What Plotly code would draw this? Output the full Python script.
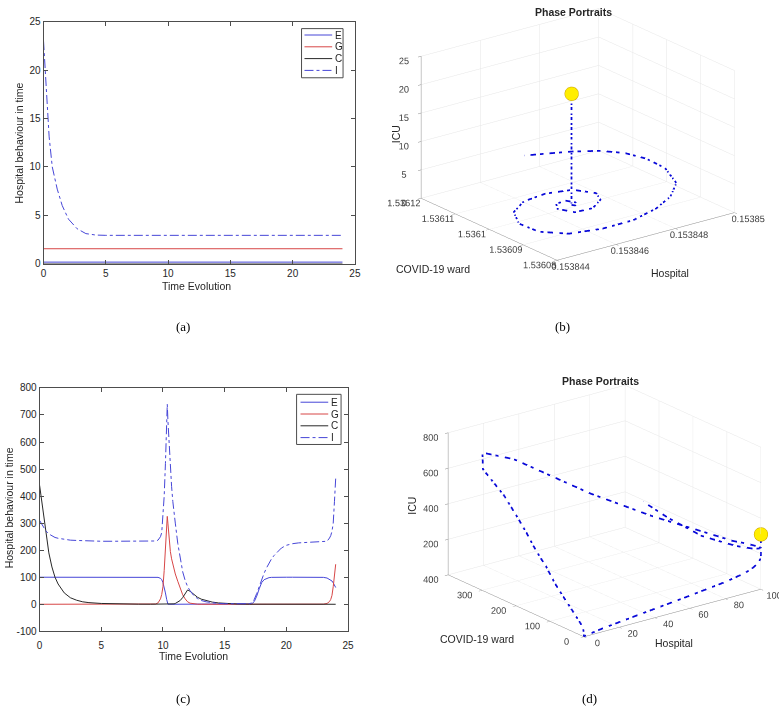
import plotly.graph_objects as go

# ---------------- (a) time series ----------------
t_a = [0, 0.13, 0.26, 0.45, 0.7, 1.1, 1.5, 2.0, 2.7, 3.4, 4.2, 5, 10, 15, 20, 24]
E_a = [0.1538] * 16
G_a = [1.5361] * 16
C_a = [0.0] * 16
I_a = [23.0, 20.2, 16.8, 13.1, 10.0, 7.7, 6.0, 4.6, 3.6, 3.1, 2.95, 2.92, 2.92, 2.92, 2.92, 2.92]

# ---------------- (b) phase portrait ----------------
hosp_b = [0.15384625] * 8 + [
    0.15384625, 0.15384611, 0.15384617, 0.15384633, 0.15384619, 0.15384584, 0.15384563,
    0.15384584, 0.15384642, 0.15384699, 0.15384720, 0.15384686, 0.15384609, 0.15384526,
    0.15384454, 0.15384413, 0.15384416, 0.15384473, 0.15384569, 0.15384673, 0.15384778,
    0.15384863, 0.15384938, 0.15384985, 0.15384987, 0.15384968, 0.15384925, 0.15384864,
    0.15384804, 0.15384741]
covid_b = [1.5360954] * 8 + [
    1.5360954, 1.5360944, 1.5360936, 1.5360948, 1.5360966, 1.5360965, 1.5360942,
    1.5360910, 1.5360906, 1.5360932, 1.5360964, 1.5361004, 1.5361017, 1.5361009,
    1.5360976, 1.5360925, 1.5360869, 1.5360829, 1.5360812, 1.5360814, 1.5360836,
    1.5360869, 1.5360917, 1.5360992, 1.5361049, 1.5361096, 1.5361132, 1.5361159,
    1.5361177, 1.5361194]
icu_b = [22.0, 17.0, 12.0, 8.0, 5.5, 4.0, 3.3, 3.0] + [2.9] * 30

# ---------------- (c) time series ----------------
t_c = [0, 0.25, 0.5, 0.75, 1.0, 1.25, 1.5, 2.0, 2.5, 3.0, 3.5, 4.0, 5.0, 6.0, 7.0, 8.0, 9.0,
       9.4, 9.6, 9.8, 9.9, 10.0, 10.1, 10.2, 10.3, 10.35, 10.4, 10.5, 10.6, 10.7, 10.8, 10.9,
       11.0, 11.2, 11.4, 11.6, 11.8, 12.0, 12.2, 12.5, 12.8, 13.1, 13.5, 14.0, 14.5, 15.0,
       16.0, 17.0, 17.2, 17.4, 17.6, 17.8, 18.0, 18.2, 18.4, 18.6, 18.8, 19.0, 19.3, 19.6,
       20.0, 20.5, 21.0, 22.0, 23.0, 23.3, 23.5, 23.6, 23.7, 23.8, 23.9, 24.0]
E_c = [100, 100, 100, 100, 100, 100, 100, 100, 100, 100, 100, 100, 100, 100, 100, 100, 100,
       100, 99.5, 96, 91, 80, 63, 42, 18, 5, 0.5, 0, 0, 0, 0, 0,
       0, 0, 0, 0, 0, 0, 0, 0, 0, 0, 0, 0, 0, 0,
       0, 0.3, 1.5, 10, 30, 57, 80, 91, 96, 98.5, 99.5, 100, 100, 100,
       100, 100, 100, 100, 99.5, 97, 93, 90, 86, 79, 70, 62]
G_c = [0, 0, 0, 0, 0, 0, 0, 0, 0, 0, 0, 0, 0, 0, 0, 0, 0,
       1, 5, 20, 36, 65, 125, 200, 300, 325, 300, 235, 195, 168, 148, 128,
       112, 85, 57, 35, 20, 9, 4, 1, 0.3, 0, 0, 0, 0, 0,
       0, 0, 0, 0, 0, 0, 0, 0, 0, 0, 0, 0, 0, 0,
       0, 0, 0, 0, 0.5, 3, 10, 18, 33, 65, 115, 148]
C_c = [440, 360, 265, 190, 138, 100, 75, 42, 24, 15, 9, 6, 3, 1.5, 0.8, 0.4, 0.2,
       0.1, 0.1, 0.1, 0.1, 0.1, 0.1, 0.1, 0.1, 0.1, 0.1, 0.2, 0.3, 0.4, 0.5, 1.5,
       3, 8, 14, 25, 40, 53, 48, 36, 26, 19, 13, 8, 5, 3,
       1, 0.3, 0.2, 0.1, 0, 0, 0, 0, 0, 0, 0, 0, 0, 0,
       0, 0, 0, 0, 0, 0, 0, 0, 0, 0, 0, 0]
I_c = [310, 290, 272, 260, 252, 247, 244, 240, 237, 236, 235, 234, 233, 233, 233, 233, 233,
       234, 237, 250, 265, 320, 400, 520, 690, 740, 680, 590, 500, 435, 380, 333,
       300, 225, 165, 120, 88, 65, 50, 32, 21, 14, 9, 5, 3, 2,
       1, 2, 5, 18, 40, 68, 95, 115, 135, 152, 168, 180, 195, 208,
       218, 224, 227, 229, 231, 233, 245, 254, 270, 300, 380, 465]

series_names = ["E", "G", "C", "I"]
FONT = "Liberation Sans"
BLUE = "rgb(70,70,215)"
RED = "rgb(215,70,70)"
BLACK = "rgb(40,40,40)"
AX = "#4d4d4d"
W, H = 784, 712
STYLES = [(BLUE, "solid"), (RED, "solid"), (BLACK, "solid"), (BLUE, "dashdot")]

fig = go.Figure()

def add_ts(t, series, xa, ya):
    for name, vals, (col, dash) in zip(series_names, series, STYLES):
        fig.add_trace(go.Scatter(x=t, y=vals, name=name, mode="lines", xaxis=xa, yaxis=ya,
                                 showlegend=False, line=dict(color=col, width=1, dash=dash)))

add_ts(t_a, [E_a, G_a, C_a, I_a], "x", "y")
add_ts(t_c, [E_c, G_c, C_c, I_c], "x2", "y2")

# 3D traces
LINE3D = dict(color="#0808d8", width=3.5, dash="dashdot")
DOT = dict(size=8, color="#ffee00", line=dict(color="#c8a000", width=1))
fig.add_trace(go.Scatter3d(x=hosp_b, y=covid_b, z=icu_b, mode="lines", scene="scene",
                           showlegend=False, line=LINE3D))
fig.add_trace(go.Scatter3d(x=[hosp_b[0]], y=[covid_b[0]], z=[icu_b[0]], mode="markers",
                           scene="scene", showlegend=False, marker=DOT))
fig.add_trace(go.Scatter3d(x=E_c, y=G_c, z=I_c, mode="lines", scene="scene2",
                           showlegend=False, line=LINE3D))
fig.add_trace(go.Scatter3d(x=[E_c[0]], y=[G_c[0]], z=[I_c[0]], mode="markers",
                           scene="scene2", showlegend=False, marker=DOT))

def ax2d(domain, rng, tickvals, anchor, standoff=0):
    return dict(domain=domain, range=rng, tickvals=tickvals, ticktext=[str(v) for v in tickvals],
                anchor=anchor, showline=True, mirror="ticks",
                linecolor=AX, linewidth=1, ticks="inside", ticklen=4, tickcolor=AX,
                showgrid=False, zeroline=False, ticklabelstandoff=standoff,
                tickfont=dict(family=FONT, size=10, color="#262626"))

def ax3d(rng, tickvals, ticktext):
    return dict(title=dict(text=""),
                range=rng, tickvals=tickvals, ticktext=ticktext, tickangle=0,
                showbackground=False, gridcolor="#e6e6e6", gridwidth=1,
                showline=True, linecolor="#8c8c8c", linewidth=1,
                ticks="outside", ticklen=4, tickcolor="#8c8c8c",
                zeroline=False, showspikes=False,
                tickfont=dict(family=FONT, size=10.5, color="#404040"))

DIR = (-1.14, -1.486, 0.70)
def camera(c):
    return dict(eye=dict(x=DIR[0] + c[0], y=DIR[1] + c[1], z=DIR[2] + c[2]),
                up=dict(x=0, y=0, z=1), center=dict(x=c[0], y=c[1], z=c[2]),
                projection=dict(type="orthographic"))
S = 1.565
ASPECT = dict(x=S, y=S, z=0.68 * S)

fig.update_layout(
    width=W, height=H, margin=dict(l=0, r=0, t=0, b=0),
    paper_bgcolor="white", plot_bgcolor="white", showlegend=False,
    font=dict(family=FONT, size=10, color="#262626"),
    xaxis=ax2d([0.0523, 0.4541], [0, 25], [0, 5, 10, 15, 20, 25], "y"),
    yaxis=ax2d([0.632, 0.9775], [0, 25], [0, 5, 10, 15, 20, 25], "x"),
    xaxis2=ax2d([0.0472, 0.4452], [0, 25], [0, 5, 10, 15, 20, 25], "y2", standoff=5),
    yaxis2=ax2d([0.1067, 0.4544], [-100, 800], list(range(-100, 801, 100)), "x2"),
    scene=dict(domain=dict(x=[0.4866, 0.9866], y=[1 - 290 / H, 1.0]),
               xaxis=ax3d([0.153844, 0.15385],
                          [0.153844, 0.153846, 0.153848, 0.15385],
                          ["0.153844", "0.153846", "0.153848", "0.15385"]),
               yaxis=ax3d([1.53608, 1.53612],
                          [1.53608, 1.53609, 1.5361, 1.53611, 1.53612],
                          ["1.53608", "1.53609", "1.5361", "1.53611", "1.53612"]),
               zaxis=ax3d([0, 25], [0, 5, 10, 15, 20, 25], ["0", "5", "10", "15", "20", "25"]),
               aspectmode="manual", aspectratio=ASPECT,
               camera=camera((-0.0432, -0.0102, -0.0920)),
               bgcolor="white"),
    scene2=dict(domain=dict(x=[0.5, 1.0], y=[1 - 662 / H, 1 - 372 / H]),
                xaxis=ax3d([0, 100], [0, 20, 40, 60, 80, 100],
                           ["0", "20", "40", "60", "80", "100"]),
                yaxis=ax3d([0, 400], [0, 100, 200, 300, 400],
                           ["0", "100", "200", "300", "400"]),
                zaxis=ax3d([0, 800], [0, 200, 400, 600, 800],
                           ["0", "200", "400", "600", "800"]),
                aspectmode="manual", aspectratio=ASPECT,
                camera=camera((-0.1137, 0.0765, -0.0231)),
                bgcolor="white"),
)

ann = []
shapes = []
def txt(x, y, s, size=10.5, bold=False, serif=False, angle=0, xanchor="center"):
    fam = "Liberation Serif" if serif else FONT
    ann.append(dict(x=x / W, y=1 - y / H, xref="paper", yref="paper",
                    text=("<b>%s</b>" % s) if bold else s,
                    showarrow=False, textangle=angle, xanchor=xanchor, yanchor="middle",
                    font=dict(family=fam, size=size, color="black" if serif else "#262626")))

def legend_box(x0, y0, x1, y1, line_x0, line_x1, text_x, rows):
    shapes.append(dict(type="rect", xref="paper", yref="paper",
                       x0=x0 / W, x1=x1 / W, y0=1 - y1 / H, y1=1 - y0 / H,
                       line=dict(color=AX, width=1), fillcolor="white", layer="above"))
    for name, (col, dash), yy in zip(series_names, STYLES, rows):
        shapes.append(dict(type="line", xref="paper", yref="paper",
                           x0=line_x0 / W, x1=line_x1 / W, y0=1 - yy / H, y1=1 - yy / H,
                           line=dict(color=col, width=1, dash=dash), layer="above"))
        txt(text_x, yy, name, size=10, xanchor="left")

legend_box(302, 23, 344, 73, 305, 333, 334, [29.5, 41.5, 53.5, 65.5])
legend_box(297, 395, 342, 446, 301, 329, 330, [403, 415, 427, 439])

txt(196, 285, "Time Evolution")
txt(193, 661, "Time Evolution")
txt(16, 139, "Hospital behaviour in time", angle=-90)
txt(6, 510, "Hospital behaviour in time", angle=-90)
txt(577, 6, "Phase Portraits", bold=True)
txt(604, 381, "Phase Portraits", bold=True)
txt(675, 272, "Hospital")
txt(435, 267, "COVID-19 ward")
txt(397, 130, "ICU", angle=-90)
txt(679, 648, "Hospital")
txt(479, 644, "COVID-19 ward")
txt(414, 508, "ICU", angle=-90)
txt(182, 326, "(a)", size=13, serif=True)
txt(566, 326, "(b)", size=13, serif=True)
txt(182, 704, "(c)", size=13, serif=True)
txt(593, 704, "(d)", size=13, serif=True)
fig.update_layout(annotations=ann, shapes=shapes)

fig.write_html("out.html")
